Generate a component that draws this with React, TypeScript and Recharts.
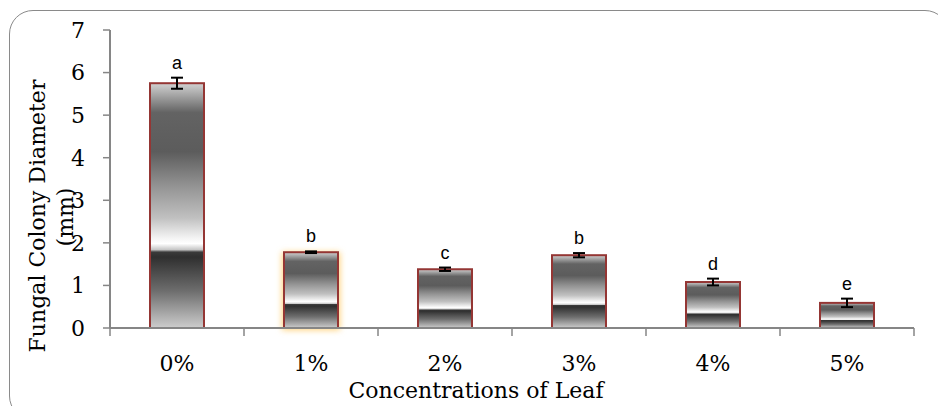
import React from 'react';
import { BarChart, Bar, XAxis, YAxis, ErrorBar, LabelList } from 'recharts';

// values
const concentrations = ['0%', '1%', '2%', '3%', '4%', '5%'];
const diameters = [5.75, 1.78, 1.38, 1.71, 1.08, 0.59];
const errors = [0.13, 0.02, 0.04, 0.05, 0.08, 0.1];
const letters = ['a', 'b', 'c', 'b', 'd', 'e'];
const yTicks = [0, 1, 2, 3, 4, 5, 6, 7];

const data = concentrations.map((c, i) => ({
    name: c,
    value: diameters[i],
    err: errors[i],
    letter: letters[i]
}));

const SERIF = '"DejaVu Serif", serif';
const AXIS = '#868686';

const GlowBar = (props: any) => {
    const { x, y, width, height, index } = props;
    return (
        <g>
            {index === 1 && (
                <rect x={x - 2} y={y} width={width + 4} height={height + 2} fill="#ffd27a" filter="url(#glow)" />
            )}
            <rect x={x} y={y} width={width} height={height} fill="url(#barGrad)" stroke="#943634" strokeWidth={2} />
        </g>
    );
};

const XTick = (props: any) => {
    const { x, y, payload, index } = props;
    const half = payload.offset ?? 67;
    return (
        <g>
            <line x1={x - half} y1={y} x2={x - half} y2={y + 8} stroke={AXIS} strokeWidth={1.5} />
            {index === concentrations.length - 1 && (
                <line x1={x + half} y1={y} x2={x + half} y2={y + 8} stroke={AXIS} strokeWidth={1.5} />
            )}
            <text x={x} y={y + 43} textAnchor="middle" fontFamily={SERIF} fontSize={22} fill="#000">
                {payload.value}
            </text>
        </g>
    );
};

const Letter = (props: any) => {
    const { x, y, width, height, value, index } = props;
    const perUnit = Math.abs(height) / diameters[index];
    const top = y - errors[index] * perUnit;
    return (
        <text x={x + width / 2} y={top - 9} textAnchor="middle" fontFamily='"Liberation Sans", Arial, sans-serif' fontSize={18} fill="#000">
            {value}
        </text>
    );
};

const YLabel = () => (
    <g fontFamily={SERIF} fontSize={22} fill="#000">
        <text x={45} y={216} textAnchor="middle" transform="rotate(-90 45 216)">Fungal Colony Diameter</text>
        <text x={73} y={217} textAnchor="middle" transform="rotate(-90 73 217)">(mm)</text>
    </g>
);

const XLabel = (props: any) => {
    const { viewBox } = props;
    const cx = viewBox.x + viewBox.width / 2 - 36;
    return (
        <text x={cx} y={398} textAnchor="middle" fontFamily={SERIF} fontSize={22} fill="#000">
            Concentrations of Leaf
        </text>
    );
};

export default function App() {
    return (
        <div style={{ position: 'absolute', left: 0, top: 0, width: 938, height: 406, overflow: 'hidden', background: '#fff' }}>
            {/* rounded chart frame */}
            <div
                style={{
                    position: 'absolute',
                    left: 9,
                    top: 10,
                    width: 940,
                    height: 410,
                    border: '1.5px solid #8a8a8a',
                    borderRadius: 24,
                    boxSizing: 'border-box'
                }}
            />
            <div style={{ position: 'absolute', left: 0, top: 0 }}>
                <BarChart width={938} height={406} data={data} margin={{ top: 30, right: 24, left: 10, bottom: 18 }}>
                    <defs>
                        <linearGradient id="barGrad" x1="0" y1="0" x2="0" y2="1">
                            <stop offset="0" stopColor="#d2d2d2" />
                            <stop offset="0.05" stopColor="#a4a4a4" />
                            <stop offset="0.12" stopColor="#636363" />
                            <stop offset="0.28" stopColor="#5c5c5c" />
                            <stop offset="0.42" stopColor="#939393" />
                            <stop offset="0.55" stopColor="#c0c0c0" />
                            <stop offset="0.63" stopColor="#f2f2f2" />
                            <stop offset="0.655" stopColor="#ffffff" />
                            <stop offset="0.68" stopColor="#c6c6c6" />
                            <stop offset="0.69" stopColor="#3a3a3a" />
                            <stop offset="0.71" stopColor="#2f2f2f" />
                            <stop offset="0.85" stopColor="#6e6e6e" />
                            <stop offset="1" stopColor="#cdcdcd" />
                        </linearGradient>
                        <filter id="glow" x="-30%" y="-30%" width="160%" height="160%">
                            <feGaussianBlur stdDeviation="3" />
                        </filter>
                    </defs>
                    <XAxis
                        dataKey="name"
                        height={60}
                        axisLine={{ stroke: AXIS, strokeWidth: 2 }}
                        tickLine={false}
                        tickSize={0}
                        tickMargin={0}
                        tick={<XTick />}
                        interval={0}
                        label={{ content: <XLabel /> }}
                    />
                    <YAxis
                        width={100}
                        domain={[0, 7]}
                        ticks={yTicks}
                        axisLine={{ stroke: AXIS, strokeWidth: 2 }}
                        tickLine={{ stroke: AXIS, strokeWidth: 1.5 }}
                        tickSize={7}
                        tickMargin={18}
                        tick={{ fontFamily: SERIF, fontSize: 22, fill: '#000' }}
                        label={{ content: <YLabel /> }}
                    />
                    <Bar dataKey="value" barSize={54} shape={<GlowBar />} isAnimationActive={false}>
                        <ErrorBar dataKey="err" width={6} stroke="#000" strokeWidth={2} direction="y" />
                        <LabelList dataKey="letter" content={<Letter />} />
                    </Bar>
                </BarChart>
            </div>
        </div>
    );
}
